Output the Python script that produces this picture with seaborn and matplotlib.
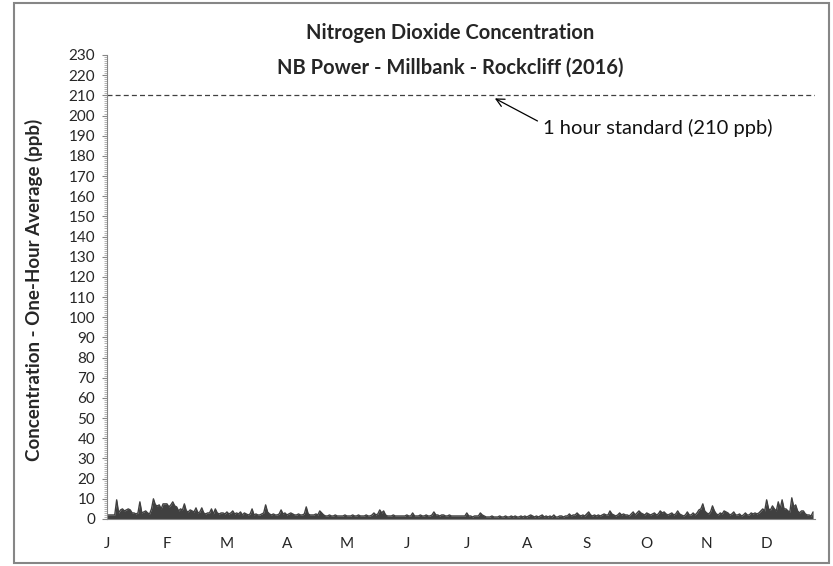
import numpy as np
import pandas as pd
import matplotlib
matplotlib.use("Agg")
import matplotlib.pyplot as plt
import seaborn as sns
from matplotlib.patches import Rectangle
from matplotlib.ticker import MultipleLocator

# ---- data: daily peak of the hourly NO2 (ppb), 2016 ----
month_labels = ["J", "F", "M", "A", "M", "J", "J", "A", "S", "O", "N", "D"]
label_step_days = 31   # Excel puts a label every 744 hours

jan = [2, 2, 2, 2, 2, 9.5, 3, 4.5, 5, 4, 4.5, 5, 4.5, 3, 3, 2.5, 3, 8.5, 3, 3.5,
       4, 3, 2.5, 5, 10, 7, 6.5, 7, 5, 7.5, 7.5]
feb = [7.5, 6, 7, 8.5, 6.5, 6, 4, 5, 4.5, 7.5, 4, 3.5, 4.5, 4, 3.5, 5.5, 3, 3.5, 5.5, 3,
       2.5, 3, 3, 5, 2.5, 5, 3, 2.5, 3]
mar = [3, 2.5, 3.5, 2.5, 3, 4, 2.5, 3, 2.5, 3.5, 2, 3, 2.5, 2, 2.5, 5, 2, 2.5, 2, 2,
       2.5, 3, 7, 3.5, 2.5, 2, 2.5, 2, 2, 2.5, 4.5]
apr = [2.5, 3, 2, 2.5, 3, 2.5, 2, 2, 2.5, 2, 2, 2.5, 6, 2.5, 2, 2, 2, 2.5, 2, 4,
       3, 2, 1.5, 1.5, 2, 1.5, 1.5, 2, 1.5, 1.5]
may = [1.5, 1.5, 2, 1.5, 1.5, 1.5, 2, 1.5, 1.5, 2, 1.5, 1.5, 1.5, 2, 1.5, 1.5, 2, 3, 2, 2.5,
       4.5, 3, 4, 2, 1.5, 1.5, 1.5, 2, 1.5, 1.5, 1.5]
jun = [1.5, 1.5, 1.5, 2, 1.5, 1.5, 3, 1.5, 1.5, 1.5, 2, 1.5, 1.5, 2, 1.5, 1.5, 2, 3.5, 2, 2,
       1.5, 2, 2, 1.5, 1.5, 2, 1.5, 1.5, 1.5, 1.5]
jul = [1.5, 1.5, 1.5, 1.5, 3, 1.5, 1.5, 1, 1.5, 1.5, 1.5, 3, 2, 1.5, 1, 1, 1, 1.5, 1, 1,
       1, 1.5, 1, 1, 1.5, 1, 1, 1.5, 1, 1.5, 1]
aug = [1, 1.5, 1, 1.5, 1, 1.5, 2, 1.5, 1, 1.5, 1, 1.5, 2, 1, 1.5, 1, 1.5, 1, 2, 1,
       1, 1.5, 1.5, 1, 1.5, 1.5, 2.5, 1.5, 2, 2, 3]
sep = [2, 1.5, 2, 1.5, 2.5, 3.5, 2, 1.5, 2, 1.5, 2, 1.5, 2, 2.5, 2, 2, 4, 2.5, 2, 1.5,
       2, 3, 2, 2.5, 2, 2, 1.5, 2.5, 3.5, 2]
oct_ = [3, 4, 3, 2.5, 2, 3, 2.5, 2, 2.5, 3, 2, 2.5, 4, 3, 3.5, 2.5, 2, 2.5, 3, 2,
        2.5, 4, 2.5, 2, 1.5, 2, 3.5, 2, 2, 3, 2]
nov = [3, 4.5, 5, 7.5, 4, 3, 2.5, 3.5, 6.5, 4, 2.5, 2, 3, 2.5, 4, 3.5, 3, 2, 2.5, 3.5,
       2, 2, 2.5, 1.5, 2, 3, 2, 2, 3, 2.5]
dec = [3, 2.5, 3, 4, 5, 4, 9.5, 5, 4.5, 6.5, 5, 4, 8.5, 5, 9.5, 5, 5, 4, 3.5, 10.5,
       6, 7, 4, 3, 4, 4, 2.5, 2, 2, 1.5, 3.5]

no2_ppb = jan + feb + mar + apr + may + jun + jul + aug + sep + oct_ + nov + dec
standard_ppb = 210

df = pd.DataFrame({"day": np.arange(len(no2_ppb)), "no2": no2_ppb})
label_pos = np.arange(len(month_labels)) * label_step_days

# ---- style ----
sns.set_theme(style="white")
plt.rcParams["font.family"] = ["Lato", "DejaVu Sans"]

W, H = 833, 566
fig = plt.figure(figsize=(W / 100, H / 100), dpi=100)
ax = fig.add_axes([107 / W, 1 - 519 / H, (815 - 107) / W, (519 - 55) / H])

line_col = "#404040"
sns.lineplot(data=df, x="day", y="no2", ax=ax, color=line_col, lw=1.0)
ax.fill_between(df["day"], df["no2"], color=line_col, lw=0)

ax.axhline(standard_ppb, color=line_col, lw=0.9, ls=(0, (4, 2.5)))
ax.annotate("1 hour standard (210 ppb)", xy=(200.5, 208.5), xytext=(225.5, 194),
            ha="left", va="center", fontsize=14.5, color="#111111",
            arrowprops=dict(arrowstyle="->", color="black", lw=0.9,
                            relpos=(0, 0.7), shrinkA=2, shrinkB=0))

ax.set_xlim(0, 366)
ax.set_ylim(0, 230)
ax.set_yticks(range(0, 231, 10))
ax.yaxis.set_minor_locator(MultipleLocator(1))
ax.set_xticks(label_pos)
ax.set_xticklabels(month_labels)
ax.set_xlabel("")
ax.set_ylabel("")

ax.tick_params(axis="y", which="major", length=3.5, width=0.8, color="#868686",
               direction="out", labelsize=11, pad=5, left=True)
ax.tick_params(axis="y", which="minor", length=2.2, width=0.6, color="#a6a6a6",
               direction="out", left=True)
ax.tick_params(axis="x", length=0, labelsize=11, pad=13)

for s in ["top", "right"]:
    ax.spines[s].set_visible(False)
for s in ["left", "bottom"]:
    ax.spines[s].set_color("#868686")
    ax.spines[s].set_linewidth(0.8)

fig.text(450 / W, 1 - 33 / H, "Nitrogen Dioxide Concentration", ha="center", va="center",
         fontsize=14.5, fontweight="bold")
fig.text(450 / W, 1 - 68 / H, "NB Power - Millbank - Rockcliff (2016)", ha="center",
         va="center", fontsize=14.5, fontweight="bold")
fig.text(34 / W, 1 - 290 / H, "Concentration - One-Hour Average (ppb)", rotation=90,
         ha="center", va="center", fontsize=13.5, fontweight="bold")

fig.patches.append(Rectangle((14 / W, 3 / H), (829 - 14) / W, (563 - 3) / H,
                             transform=fig.transFigure, fill=False,
                             edgecolor="#868686", lw=1.5))

fig.savefig("out.png", dpi=100)
